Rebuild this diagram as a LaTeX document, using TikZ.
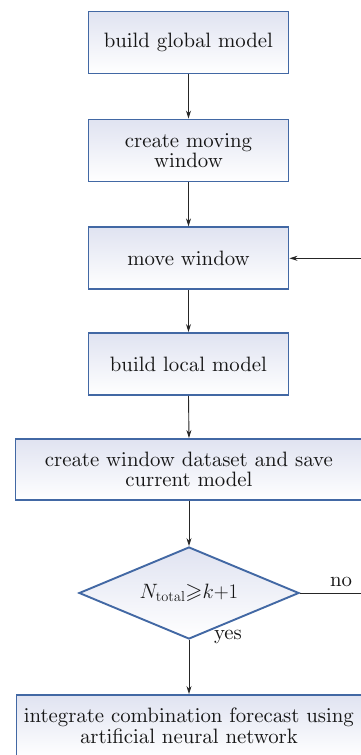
\documentclass[tikz,border=0pt]{standalone}
\usepackage{amsmath,amssymb}
\usetikzlibrary{shapes.geometric,arrows.meta}
\definecolor{boxtop}{RGB}{224,227,241}
\definecolor{boxline}{RGB}{66,104,164}
\definecolor{txt}{RGB}{22,22,22}
\font\boxfont=cmr10 at 20.8pt
\tikzset{
  stepbox/.style={draw=boxline, line width=1.9pt, top color=boxtop, bottom color=white,
    minimum width=200pt, minimum height=62pt, inner sep=0pt, align=center, text=txt,
    font=\boxfont\setlength\baselineskip{20.5pt}},
  decbox/.style={diamond, aspect=2.4, draw=boxline, line width=1.9pt, top color=boxtop, bottom color=white,
    minimum width=220pt, minimum height=92pt, inner sep=0pt, text=txt,
    font=\fontsize{22}{20}\selectfont},
  conn/.style={draw=black!85, line width=0.9pt, -{Stealth[length=8pt,width=5pt]}},
  lbl/.style={text=txt, font=\boxfont, inner sep=0pt}
}
\begin{document}
\begin{tikzpicture}[x=1pt,y=-1pt]
\useasboundingbox (0,0) rectangle (361,755);
\clip (0,0) rectangle (361,755);
\fill[white] (0,0) rectangle (361,755);
\node[stepbox] (b1) at (188.5,42.5) {build global model};
\node[stepbox] (b2) at (188.5,150.5) {create moving\\window};
\node[stepbox] (b3) at (188.5,258.3) {move window};
\node[stepbox] (b4) at (188.5,364) {build local model};
\node[stepbox, minimum width=347pt, minimum height=61pt] (b5) at (189,469.5) {create window dataset and save\\current model};
\node[decbox] (dec) at (189,593) {$N_{\mathrm{total}}{\geqslant}k{+}1$};
\node[stepbox, minimum width=345pt] (b6) at (189,726) {integrate combination forecast using\\artificial neural network};
\coordinate (loop) at (366,593);
\draw[conn] (b1.south) -- (b2.north);
\draw[conn] (b2.south) -- (b3.north);
\draw[conn] (b3.south) -- (b4.north);
\draw[conn] (b4.south) -- (b5.north);
\draw[conn] (b5.south) -- (dec.north);
\draw[conn] (dec.south) -- (b6.north);
\draw[conn] (dec.east) -- (loop) |- (b3.east);
\node[lbl] (no) at (341,582) {no};
\node[lbl] (yes) at (228,637) {yes};
\end{tikzpicture}
\end{document}
